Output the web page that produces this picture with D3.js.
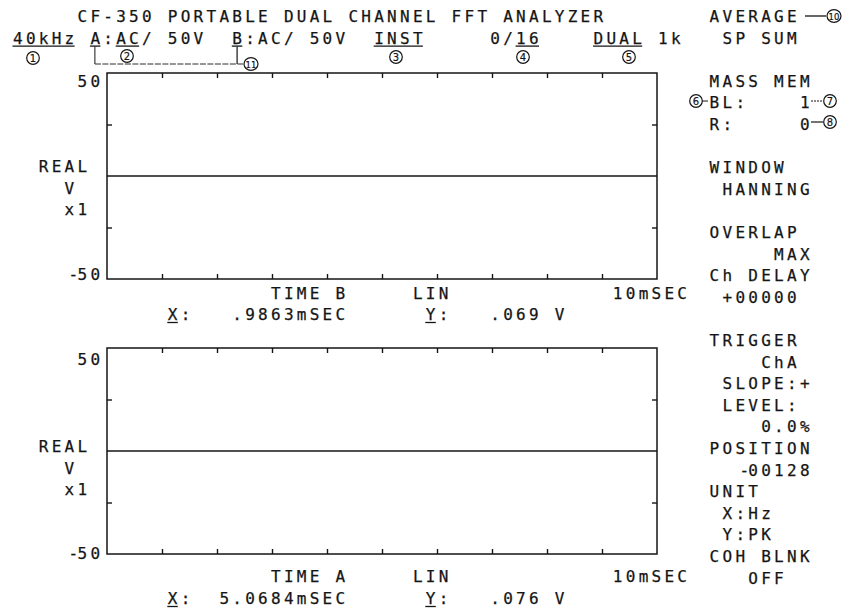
<!DOCTYPE html>
<html>
<head>
<meta charset="utf-8">
<script src="https://cdn.jsdelivr.net/npm/d3@7/dist/d3.min.js"></script>
<style>
  html, body { margin: 0; padding: 0; background: #fff; }
  svg { display: block; }
  text { font-family: "DejaVu Sans Mono", monospace; font-size: 16px; fill: #151515;
         stroke: #151515; stroke-width: 0.25px; }
  .num { font-family: "DejaVu Sans", sans-serif; font-size: 10px; text-anchor: middle;
         dominant-baseline: central; stroke-width: 0.2px; }
</style>
</head>
<body>
<svg id="screen" width="844" height="609"></svg>
<script>
// ---- measurement data (CF-350 display) ----
const timeSpanMs = [0, 10];          // time axis, LIN 0..10 ms
const voltSpan = [-50, 50];           // vertical range, V x1
const xTickMs = [1, 2, 3, 4, 5, 6, 7, 8, 9];
const yTickV = [-25, 25];
const yLabelV = [50, -50];
const traceTimeMs = [0, 10];
const traceB = [0, 0];                // TIME B (upper trace)
const traceA = [0, 0];                // TIME A (lower trace)

const titleText = "CF-350 PORTABLE DUAL CHANNEL FFT ANALYZER";
const headerItems = ["40kHz", "A:AC/ 50V", "B:AC/ 50V", "INST", "0/16", "DUAL 1k"];
const panelItems = ["AVERAGE", "SP  SUM", "MASS MEM", "BL:", "1", "R:", "0",
  "WINDOW", "HANNING", "OVERLAP", "MAX", "Ch DELAY", "+00000",
  "TRIGGER", "ChA", "SLOPE:+", "LEVEL:", "0.0%", "POSITION", "-00128",
  "UNIT", "X:Hz", "Y:PK", "COH BLNK", "OFF"];
const upperReadout = { name: "TIME B", scale: "LIN", span: "10mSEC", x: ".9863mSEC", y: ".069 V" };
const lowerReadout = { name: "TIME A", scale: "LIN", span: "10mSEC", x: "5.0684mSEC", y: ".076 V" };

// ---- character grid of the display ----
const CW = 12.9, C0 = 13, RH = 21.6, R0 = 22;
const col = c => C0 + c * CW;
const row = k => R0 + k * RH;
const svg = d3.select("#screen");
const INK = "#151515";

// text placed cell by cell on the character grid; y is a baseline in px
function putAt(str, c, y, endCol) {
  const chars = Array.from(str);
  const start = endCol !== undefined ? endCol - chars.length + 1 : c;
  // a leading minus sits tight against its digits
  const xs = chars.map((ch, i) => col(start + i) + (i === 0 && ch === "-" ? 4 : 0));
  return svg.append("text")
    .attr("x", xs.join(" "))
    .attr("y", y)
    .text(str);
}
const put = (str, c, k, endCol) => putAt(str, c, row(k), endCol);
function underlineAt(c, n, y) {
  svg.append("line")
    .attr("x1", col(c) - 0.5).attr("x2", col(c + n - 1) + 10)
    .attr("y1", y + 2.5).attr("y2", y + 2.5)
    .attr("stroke", INK).attr("stroke-width", 1.3);
}
const underline = (c, n, k) => underlineAt(c, n, row(k));
function callout(label, cx, cy) {
  svg.append("ellipse").attr("cx", cx).attr("cy", cy)
    .attr("rx", label.length > 1 ? 7 : 6.3).attr("ry", 6.3)
    .attr("fill", "none").attr("stroke", INK).attr("stroke-width", 1.2);
  svg.append("text").attr("class", "num").attr("x", cx).attr("y", cy + 0.5)
    .style("font-size", label.length > 1 ? "8.5px" : "10px").text(label);
}
function seg(x1, y1, x2, y2, w, dash) {
  svg.append("line").attr("x1", x1).attr("y1", y1).attr("x2", x2).attr("y2", y2)
    .attr("stroke", INK).attr("stroke-width", w || 1)
    .attr("stroke-dasharray", dash || null);
}

// ---- header ----
put(titleText, 5, 0);
const headerCols = [0, 6, 17, 28, 37, 45];
headerItems.forEach((s, i) => put(s, headerCols[i], 1));
underline(0, 5, 1); underline(6, 1, 1); underline(8, 2, 1); underline(17, 1, 1);
underline(28, 4, 1); underline(39, 2, 1); underline(45, 4, 1);

// channel bracket A..B
const ax = col(6) + 4.5, bx = col(17) + 4.8, by = 64;
seg(ax, row(1) + 3, ax, by, 1);
seg(bx, row(1) + 3, bx, by, 1.2);
seg(ax, by, bx + 6, by, 0.9, "6 1.5");
callout("11", 251, 64);

callout("1", 33, 58);
callout("2", 127, 56);
callout("3", 396, 57);
callout("4", 523, 57);
callout("5", 629, 57);

// ---- right-hand settings panel ----
const panelPos = [[54, 0], [55, 1], [54, 3], [54, 4], [null, 4, 61], [54, 5], [null, 5, 61],
  [54, 7], [55, 8], [54, 10], [null, 11, 61], [54, 12], [55, 13],
  [54, 15], [58, 16], [55, 17], [55, 18], [null, 19, 61], [54, 20], [null, 21, 61],
  [54, 22], [55, 23], [55, 24], [54, 25], [57, 26]];
panelItems.forEach((s, i) => {
  const p = panelPos[i];
  put(s, p[0], p[1], p[0] === null ? p[2] : undefined);
});
seg(805, 16, 826, 16, 1.3);
callout("10", 834, 16);
callout("6", 696, 101);
seg(702, 101, 708, 101, 1);
seg(811, 101, 823, 101, 1, "2 1");
callout("7", 830, 101);
seg(811, 122, 823, 122, 1.2);
callout("8", 830, 122);

// ---- the two time records ----
function panel(top, bottom, values, readout, labelY, readY) {
  const x = d3.scaleLinear().domain(timeSpanMs).range([107, 657]);
  const y = d3.scaleLinear().domain(voltSpan).range([bottom, top]);
  const g = svg.append("g");

  g.append("rect").attr("x", x(timeSpanMs[0])).attr("y", y(voltSpan[1]))
    .attr("width", x(timeSpanMs[1]) - x(timeSpanMs[0]))
    .attr("height", y(voltSpan[0]) - y(voltSpan[1]))
    .attr("fill", "none").attr("stroke", INK).attr("stroke-width", 1.5);

  const axes = [
    [d3.axisBottom(x).tickValues(xTickMs), 0, y(voltSpan[1])],
    [d3.axisTop(x).tickValues(xTickMs), 0, y(voltSpan[0])],
    [d3.axisRight(y).tickValues(yTickV), x(timeSpanMs[0]), 0],
    [d3.axisLeft(y).tickValues(yTickV), x(timeSpanMs[1]), 0]
  ];
  axes.forEach(([ax, tx, ty]) => {
    const a = g.append("g").attr("transform", `translate(${tx},${ty})`)
      .call(ax.tickSize(5).tickFormat(""));
    a.select(".domain").remove();
    a.selectAll(".tick line").attr("stroke", INK).attr("stroke-width", 1.4);
  });

  const line = d3.line().x((d, i) => x(traceTimeMs[i])).y(d => y(d));
  g.append("path").datum(values).attr("d", line)
    .attr("fill", "none").attr("stroke", INK).attr("stroke-width", 1.3);

  // vertical scale labels: full-scale values and the unit block
  putAt(String(yLabelV[0]), null, y(yLabelV[0]) + labelY[0], 6);
  putAt(String(yLabelV[1]), null, y(yLabelV[1]) + labelY[1], 6);
  putAt("REAL", 2, y(0) + labelY[2]);
  putAt("V", 4, y(0) + labelY[2] + 21.6);
  putAt("x1", 4, y(0) + labelY[2] + 43.2);

  // axis caption and cursor readout
  putAt(readout.name, 20, readY[0]);
  putAt(readout.scale, 31, readY[0]);
  putAt(readout.span, 46.5, readY[0]);
  putAt("X:", 12, readY[1]); underlineAt(12, 1, readY[1]);
  putAt(readout.x, null, readY[1], 25);
  putAt("Y:", 32, readY[1]); underlineAt(32, 1, readY[1]);
  putAt(readout.y, 37, readY[1]);
}

panel(73, 279, traceB, upperReadout, [14, 1, -4], [299, 320]);
panel(348, 554, traceA, lowerReadout, [17, 5, 1], [582, 604]);
</script>
</body>
</html>
